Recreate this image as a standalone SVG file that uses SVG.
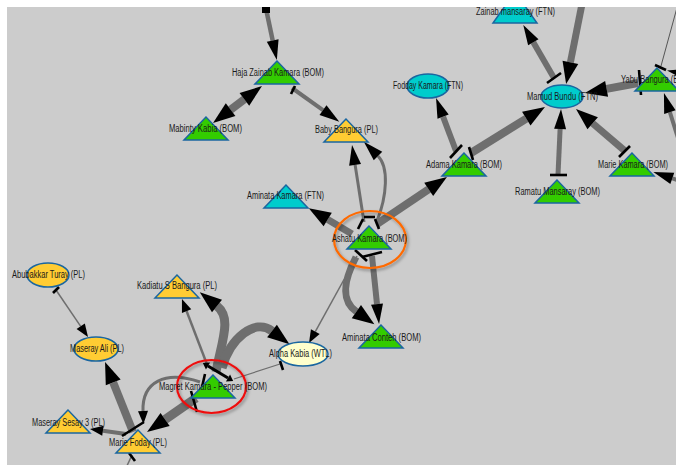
<svg xmlns="http://www.w3.org/2000/svg" width="676" height="465" viewBox="0 0 676 465">
<style>
.e{fill:none;stroke:#6e6e6e;stroke-linecap:butt}
.bar{stroke:#000;stroke-width:2.6;stroke-linecap:butt}
.n{stroke:#1a66a0;stroke-width:1.5}
.g{fill:#33cc00}.c{fill:#00cccc}.y{fill:#ffcc33}.w{fill:#ffffcc}
.lbl{font-family:"Liberation Sans",Arial,sans-serif;font-size:10px;fill:#1a1a1a;text-anchor:middle}
.hl{fill:none;stroke-width:2.2}
</style>
<defs>
<marker id="aL" markerUnits="userSpaceOnUse" orient="auto-start-reverse" overflow="visible" markerWidth="1" markerHeight="1" refX="0" refY="0"><path d="M0,-8 L22,0 L0,8 z" fill="#000"/></marker>
<marker id="aM" markerUnits="userSpaceOnUse" orient="auto-start-reverse" overflow="visible" markerWidth="1" markerHeight="1" refX="0" refY="0"><path d="M0,-6 L20,0 L0,6 z" fill="#000"/></marker>
<marker id="aS" markerUnits="userSpaceOnUse" orient="auto-start-reverse" overflow="visible" markerWidth="1" markerHeight="1" refX="0" refY="0"><path d="M0,-5 L13,0 L0,5 z" fill="#000"/></marker>
<marker id="aK" markerUnits="userSpaceOnUse" orient="auto-start-reverse" overflow="visible" markerWidth="1" markerHeight="1" refX="0" refY="0"><path d="M0,-4 L6,0 L0,4 z" fill="#000"/></marker>
<filter id="sh" x="-30%" y="-30%" width="160%" height="160%"><feDropShadow dx="1.5" dy="2" stdDeviation="1.8" flood-color="#000" flood-opacity="0.35"/></filter>
</defs>
<rect x="0" y="0" width="676" height="465" fill="#cccccc"/>
<g id="connectors">
<path class="e" d="M265,4 L272.7,40.5" stroke-width="4.5" marker-end="url(#aM)"/>
<path class="e" d="M244.4,99.3 L230.6,109.7" stroke-width="8" marker-start="url(#aL)" marker-end="url(#aL)"/>
<path class="e" d="M292,88 L323,110.1" stroke-width="4" marker-end="url(#aM)"/>
<path class="e" d="M582,4 L570.4,62.4" stroke-width="7" marker-end="url(#aL)"/>
<path class="e" d="M554,78 L533.3,42.2" stroke-width="6" marker-end="url(#aM)"/>
<path class="e" d="M638,83 L606.6,88.9" stroke-width="8" marker-end="url(#aL)"/>
<path class="e" d="M558,175 L560.1,129" stroke-width="5" marker-end="url(#aM)"/>
<path class="e" d="M625,151 L592.7,123.3" stroke-width="7" marker-end="url(#aL)"/>
<path class="e" d="M680,181 L672.3,178.4" stroke-width="4" marker-end="url(#aM)"/>
<path class="e" d="M678,138 L669.9,112.1" stroke-width="4" marker-end="url(#aM)"/>
<path class="e" d="M661,66 L678,4" stroke-width="1" style="stroke:#555"/>
<path class="e" d="M700,77 L686.7,74.4" stroke-width="3" marker-end="url(#aM)"/>
<path class="e" d="M456,151 L443.1,116.7" stroke-width="6" marker-end="url(#aM)"/>
<path class="e" d="M471,153 L526.3,118.6" stroke-width="8" marker-end="url(#aL)"/>
<path class="e" d="M377,224 L428.7,189.3" stroke-width="8" marker-end="url(#aL)"/>
<path class="e" d="M352,234 L327.7,219.5" stroke-width="7" marker-end="url(#aL)"/>
<path class="e" d="M364,222 L355.1,164.8" stroke-width="3" marker-end="url(#aM)"/>
<path class="e" d="M377,221 C387,196 389,167 378,156" stroke-width="3" marker-end="url(#aM)"/>
<path class="e" d="M372,256 L377,304.1" stroke-width="6" marker-end="url(#aM)"/>
<path class="e" d="M356,257 C344,280 340,300 356.4,311.6" stroke-width="7" marker-end="url(#aL)"/>
<path class="e" d="M357,256 L315.3,331.6" stroke-width="1.5" marker-end="url(#aS)"/>
<path class="e" d="M56,290 L80.7,326.3" stroke-width="1.5" marker-end="url(#aS)"/>
<path class="e" d="M208,367 L186.6,311.1" stroke-width="2.5" marker-end="url(#aS)"/>
<path class="e" d="M216,372 C222,340 232,318 217,306" stroke-width="9" marker-end="url(#aL)"/>
<path class="e" d="M222,368 C230,338 255,318 272,331" stroke-width="9" marker-end="url(#aL)"/>
<path class="e" d="M280,364 L234,379" stroke-width="1.2"/>
<path d="M208,366 L228,378" fill="none" stroke="#000" stroke-width="3" marker-start="url(#aK)" marker-end="url(#aK)"/>
<path class="e" d="M196,398 L165.1,419.5" stroke-width="9" marker-end="url(#aL)"/>
<path class="e" d="M200,382 C165,370 142,382 143,411" stroke-width="3" marker-end="url(#aS)"/>
<path class="e" d="M133,432 L113.2,382.4" stroke-width="8" marker-end="url(#aL)"/>
<path class="e" d="M126,434 L102.9,430.8" stroke-width="4" marker-end="url(#aS)"/>
<path class="e" d="M132,455 L126,468" stroke-width="1.5"/>
<line class="bar" x1="262" y1="10" x2="270" y2="10" style="stroke-width:6"/>
<line class="bar" x1="291" y1="94" x2="295" y2="86"/>
<line class="bar" x1="547" y1="83" x2="561" y2="73"/>
<line class="bar" x1="639" y1="70" x2="641" y2="95"/>
<line class="bar" x1="550" y1="175" x2="567" y2="175"/>
<line class="bar" x1="619" y1="157" x2="630" y2="146"/>
<line class="bar" x1="655" y1="65" x2="666" y2="70"/>
<line class="bar" x1="450" y1="158" x2="462" y2="145"/>
<line class="bar" x1="469" y1="147" x2="473" y2="160"/>
<line class="bar" x1="358" y1="229" x2="363" y2="219"/>
<line class="bar" x1="364" y1="217" x2="375" y2="217"/>
<line class="bar" x1="375" y1="219" x2="379" y2="229"/>
<line class="bar" x1="355" y1="250" x2="367" y2="261"/>
<line class="bar" x1="362" y1="257" x2="382" y2="252"/>
<line class="bar" x1="53" y1="293" x2="59" y2="287"/>
<line class="bar" x1="280" y1="361" x2="283" y2="370"/>
<line class="bar" x1="205" y1="374" x2="202" y2="387"/>
<line class="bar" x1="191" y1="391" x2="197" y2="412"/>
<line class="bar" x1="122" y1="436" x2="144" y2="422"/>
<line class="bar" x1="129" y1="453" x2="135" y2="461"/>
</g>
<g id="n-haja"><polygon class="n g" points="277,61 255,84 299,84"/><text class="lbl" x="278" y="76" textLength="92" lengthAdjust="spacingAndGlyphs">Haja Zainab Kamara (BOM)</text></g>
<g id="n-mabinty"><polygon class="n g" points="206,117 184,140 228,140"/><text class="lbl" x="205.5" y="132" textLength="73" lengthAdjust="spacingAndGlyphs">Mabinty Kabia (BOM)</text></g>
<g id="n-baby"><polygon class="n y" points="346,119 324,142 368,142"/><text class="lbl" x="346.5" y="133" textLength="63" lengthAdjust="spacingAndGlyphs">Baby Bangura (PL)</text></g>
<g id="n-zainab"><polygon class="n c" points="515,-8 493,23 537,23"/><text class="lbl" x="515.5" y="15" textLength="79" lengthAdjust="spacingAndGlyphs">Zainab mansaray (FTN)</text></g>
<g id="n-fodday"><ellipse class="n c" cx="428" cy="86" rx="21" ry="12"/><text class="lbl" x="428" y="89" textLength="70" lengthAdjust="spacingAndGlyphs">Fodday Kamara (FTN)</text></g>
<g id="n-mamud"><ellipse class="n c" cx="562" cy="96.5" rx="21" ry="11.5"/><text class="lbl" x="562.5" y="100" textLength="71" lengthAdjust="spacingAndGlyphs">Mamud Bundu (FTN)</text></g>
<g id="n-yabu"><polygon class="n g" points="657,68 635,91 679,91"/><text class="lbl" x="657" y="83" textLength="72" lengthAdjust="spacingAndGlyphs">Yabu Bangura (BOM)</text></g>
<g id="n-adama"><polygon class="n g" points="464,153 442,176 486,176"/><text class="lbl" x="464" y="168" textLength="76" lengthAdjust="spacingAndGlyphs">Adama Kamara (BOM)</text></g>
<g id="n-ramatu"><polygon class="n g" points="557,180 535,203 579,203"/><text class="lbl" x="557.5" y="195" textLength="85" lengthAdjust="spacingAndGlyphs">Ramatu Mansaray (BOM)</text></g>
<g id="n-mariek"><polygon class="n g" points="632,153 610,176 654,176"/><text class="lbl" x="633" y="168" textLength="70" lengthAdjust="spacingAndGlyphs">Marie Kamara (BOM)</text></g>
<g id="n-aminatak"><polygon class="n c" points="286,185 264,208 308,208"/><text class="lbl" x="285.5" y="199" textLength="77" lengthAdjust="spacingAndGlyphs">Aminata Kamara (FTN)</text></g>
<g id="n-ashatu"><ellipse class="hl" cx="370" cy="239.5" rx="36" ry="28.5" stroke="#ff6a00" filter="url(#sh)"/><polygon class="n g" points="369,226 347,249 391,249"/><text class="lbl" x="369.5" y="242" textLength="75" lengthAdjust="spacingAndGlyphs">Ashatu Kamara (BOM)</text></g>
<g id="n-conteh"><polygon class="n g" points="381,325 359,348 403,348"/><text class="lbl" x="381.5" y="341" textLength="79" lengthAdjust="spacingAndGlyphs">Aminata Conteh (BOM)</text></g>
<g id="n-abubakkar"><ellipse class="n y" cx="48" cy="275" rx="21" ry="12"/><text class="lbl" x="48.5" y="278" textLength="73" lengthAdjust="spacingAndGlyphs">Abubakkar Turay (PL)</text></g>
<g id="n-kadiatu"><polygon class="n y" points="177,275 155,298 199,298"/><text class="lbl" x="177" y="289" textLength="80" lengthAdjust="spacingAndGlyphs">Kadiatu S Bangura (PL)</text></g>
<g id="n-maserayali"><ellipse class="n y" cx="96" cy="349" rx="22" ry="12"/><text class="lbl" x="97" y="352" textLength="54" lengthAdjust="spacingAndGlyphs">Maseray Ali (PL)</text></g>
<g id="n-alpha"><ellipse class="n w" cx="303" cy="354" rx="25" ry="12"/><text class="lbl" x="300.5" y="357" textLength="63" lengthAdjust="spacingAndGlyphs">Alpha Kabia (WTL)</text></g>
<g id="n-magret"><ellipse class="hl" cx="211.5" cy="386.5" rx="34.5" ry="26.5" stroke="#ee1111" filter="url(#sh)"/><polygon class="n g" points="213,375 191,398 235,398"/><text class="lbl" x="213" y="390" textLength="108" lengthAdjust="spacingAndGlyphs">Magret Kamara - Pepper (BOM)</text></g>
<g id="n-sesay"><polygon class="n y" points="68,410 46,433 90,433"/><text class="lbl" x="68.5" y="426" textLength="73" lengthAdjust="spacingAndGlyphs">Maseray Sesay 3 (PL)</text></g>
<g id="n-mariefoday"><polygon class="n y" points="138,430 116,453 160,453"/><text class="lbl" x="138" y="446" textLength="58" lengthAdjust="spacingAndGlyphs">Marie Foday (PL)</text></g>
<rect x="0" y="0" width="676" height="7" fill="#ffffff"/>
<rect x="0" y="0" width="7" height="465" fill="#ffffff"/>
</svg>
